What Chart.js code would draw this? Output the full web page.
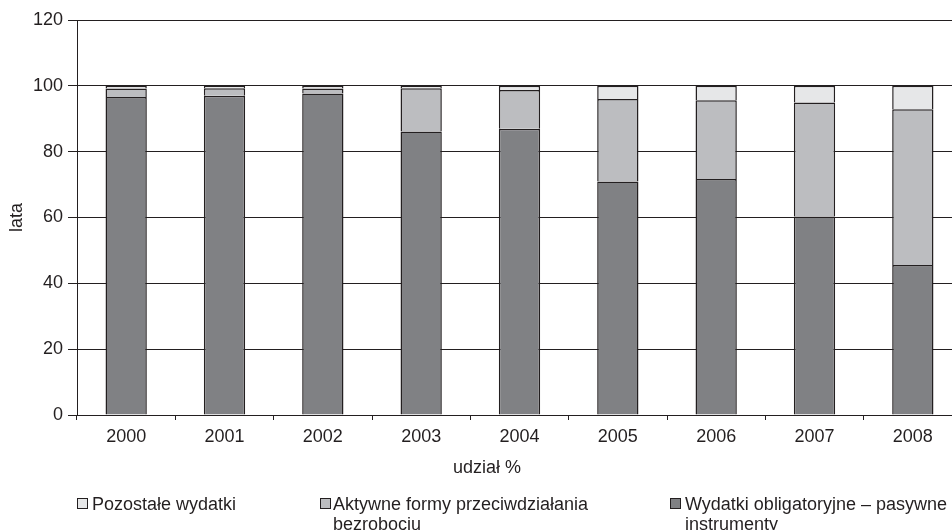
<!DOCTYPE html>
<html>
<head>
<meta charset="utf-8">
<script src="https://cdn.jsdelivr.net/npm/chart.js@4/dist/chart.umd.min.js"></script>
<style>
  body { margin: 0; overflow: hidden; background: #fff; font-family: "Liberation Sans", Arial, sans-serif; color: #231f20; }
  #wrap { position: relative; width: 952px; height: 530px; overflow: hidden; }
  canvas { position: absolute; left: 0; top: 0; }
  .txt { position: absolute; font-size: 18px; line-height: 20px; white-space: nowrap; }
  .box { position: absolute; width: 9px; height: 9px; border: 1px solid #231f20; }
</style>
</head>
<body>
<div id="wrap">
  <canvas id="canvas" width="970" height="530"></canvas>
  <div class="txt" style="left:453px; top:457px;">udział %</div>
  <div class="box" style="left:77px; top:498px; background:#e6e7e8;"></div>
  <div class="txt" style="left:92px; top:494px;">Pozostałe wydatki</div>
  <div class="box" style="left:320px; top:498px; background:#bcbdc0;"></div>
  <div class="txt" style="left:333px; top:494px;">Aktywne formy przeciwdziałania<br>bezrobociu</div>
  <div class="box" style="left:670px; top:498px; background:#808184;"></div>
  <div class="txt" style="left:685px; top:494px;">Wydatki obligatoryjne – pasywne<br>instrumenty</div>
</div>
<script>
const years = ["2000", "2001", "2002", "2003", "2004", "2005", "2006", "2007", "2008"];
const pasywne = [96.6, 97.0, 97.7, 86.1, 87.0, 70.9, 71.7, 60.3, 45.6];
const aktywne = [2.6, 2.3, 1.5, 13.2, 11.7, 25.1, 23.9, 34.6, 47.3];
const pozostale = [0.8, 0.7, 0.8, 0.7, 1.3, 4.0, 4.4, 5.1, 7.1];

const ink = "#231f20";
const font = { family: "'Liberation Sans', Arial, sans-serif", size: 18 };

const ctx = document.getElementById("canvas").getContext("2d");

new Chart(ctx, {
  type: "bar",
  data: {
    labels: years,
    datasets: [
      { label: "Wydatki obligatoryjne – pasywne instrumenty", data: pasywne, backgroundColor: "#808184" },
      { label: "Aktywne formy przeciwdziałania bezrobociu", data: aktywne, backgroundColor: "#bcbdc0" },
      { label: "Pozostałe wydatki", data: pozostale, backgroundColor: "#e6e7e8" },
    ],
  },
  options: {
    responsive: false,
    animation: false,
    devicePixelRatio: 1,
    layout: { padding: { top: 20, left: 0, right: 8, bottom: 55 } },
    datasets: {
      bar: {
        borderColor: ink,
        borderWidth: 1.5,
        barPercentage: 0.42,
        categoryPercentage: 1,
      },
    },
    scales: {
      x: {
        stacked: true,
        grid: { drawOnChartArea: false, drawTicks: true, tickLength: 5, color: ink },
        border: { color: ink, width: 1 },
        ticks: { color: ink, font: font, padding: 6 },
        afterFit: (s) => { s.height = 60; },
      },
      y: {
        stacked: true,
        min: 0,
        max: 120,
        grid: { color: ink, lineWidth: 1, tickLength: 9 },
        border: { color: ink, width: 1 },
        ticks: { stepSize: 20, color: ink, font: font, padding: 5 },
        title: { display: true, text: "lata", color: ink, font: font, padding: { top: 6, bottom: 0 } },
        afterFit: (s) => { s.width = 77; },
      },
    },
    plugins: {
      legend: { display: false },
      tooltip: { enabled: false },
    },
  },
});
</script>
</body>
</html>
